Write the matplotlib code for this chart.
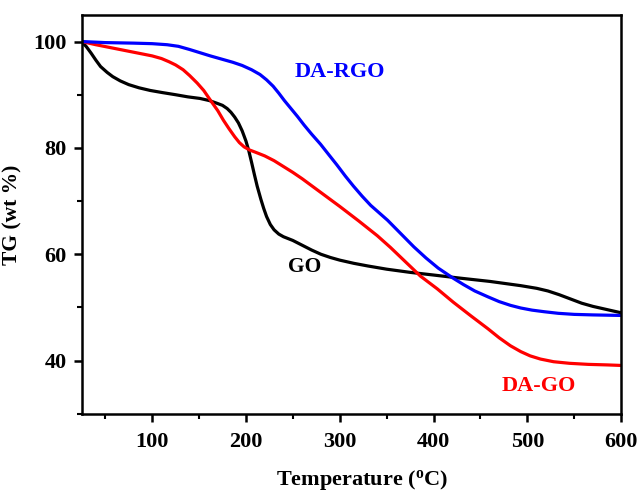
import matplotlib
matplotlib.use("Agg")
import matplotlib.pyplot as plt
from matplotlib.ticker import MultipleLocator

plt.rcParams['font.family'] = ['Liberation Serif', 'DejaVu Serif']
plt.rcParams['font.weight'] = 'bold'
plt.rcParams['mathtext.fontset'] = 'custom'
plt.rcParams['mathtext.rm'] = 'Liberation Serif:bold'
plt.rcParams['mathtext.bf'] = 'Liberation Serif:bold'
plt.rcParams['mathtext.it'] = 'Liberation Serif:bold'

go_t = [25, 30, 35, 40, 45, 52, 58, 66, 75, 86, 98, 111, 125, 138, 151, 161, 169, 175, 180, 184, 188, 192, 196, 200, 203, 206, 209, 212, 216, 219, 222, 226, 230, 235, 240, 250, 260, 270, 280, 290, 300, 315, 330, 350, 375, 400, 429, 460, 493, 510, 522, 534, 546, 558, 570, 585, 600]
go_w = [100, 99.0, 97.8, 96.5, 95.3, 94.2, 93.4, 92.6, 91.9, 91.3, 90.8, 90.4, 90.0, 89.6, 89.3, 88.9, 88.4, 88.0, 87.4, 86.7, 85.8, 84.7, 83.2, 81.3, 79.5, 77.3, 75.0, 72.8, 70.3, 68.6, 67.1, 65.6, 64.6, 63.8, 63.3, 62.6, 61.7, 60.8, 60.0, 59.4, 58.9, 58.3, 57.8, 57.2, 56.6, 56.1, 55.5, 54.9, 54.1, 53.6, 53.1, 52.4, 51.6, 50.8, 50.2, 49.6, 49.0]

dago_t = [25, 40, 60, 80, 100, 110, 118, 125, 133, 140, 148, 155, 162, 170, 176, 182, 188, 193, 198, 204, 210, 220, 230, 240, 250, 260, 280, 300, 320, 340, 354, 370, 386, 404, 421, 440, 458, 470, 482, 493, 503, 514, 528, 545, 565, 585, 600]
dago_w = [100, 99.4, 98.7, 98.0, 97.3, 96.8, 96.2, 95.6, 94.7, 93.6, 92.2, 90.8, 89.0, 87.0, 85.2, 83.6, 82.1, 81.0, 80.2, 79.6, 79.2, 78.5, 77.6, 76.5, 75.4, 74.2, 71.6, 69.0, 66.3, 63.5, 61.3, 58.6, 55.9, 53.5, 51.0, 48.4, 46.0, 44.3, 42.8, 41.7, 40.9, 40.3, 39.8, 39.5, 39.3, 39.2, 39.1]

dargo_t = [25, 50, 80, 100, 116, 128, 140, 151, 162, 174, 186, 196, 206, 215, 222, 229, 235, 241, 248, 255, 262, 270, 279.5, 288, 297, 306, 314.7, 324, 333, 342, 351, 365, 379, 392, 405, 421, 432, 444, 458, 470, 482, 493, 505, 518, 533, 550, 570, 600]
dargo_w = [100, 99.8, 99.7, 99.6, 99.4, 99.1, 98.5, 97.9, 97.3, 96.7, 96.1, 95.5, 94.7, 93.8, 92.8, 91.6, 90.3, 88.9, 87.4, 85.9, 84.3, 82.6, 80.7, 78.8, 76.8, 74.7, 72.8, 70.9, 69.2, 67.8, 66.4, 63.9, 61.4, 59.3, 57.4, 55.5, 54.3, 53.1, 52.0, 51.1, 50.4, 49.9, 49.5, 49.2, 48.9, 48.7, 48.6, 48.5]

labels = ["GO", "DA-GO", "DA-RGO"]
colors = ["black", "red", "blue"]

fig = plt.figure(figsize=(6.39, 4.98), dpi=100)
ax = fig.add_axes([0.128, 0.169, 0.844, 0.801])

ax.plot(go_t, go_w, color=colors[0], lw=2.3, solid_joinstyle='round')
ax.plot(dago_t, dago_w, color=colors[1], lw=2.3, solid_joinstyle='round')
ax.plot(dargo_t, dargo_w, color=colors[2], lw=2.3, solid_joinstyle='round')

ax.text(263, 57.6, labels[0], color=colors[0], fontsize=15.5, fontweight='bold', ha='center', va='center')
ax.text(512, 35.2, labels[1], color=colors[1], fontsize=16, fontweight='bold', ha='center', va='center')
ax.text(300, 94.2, labels[2], color=colors[2], fontsize=16, fontweight='bold', ha='center', va='center')

ax.set_xlim(25, 600)
ax.set_ylim(30, 105)
ax.xaxis.set_major_locator(MultipleLocator(100))
ax.xaxis.set_minor_locator(MultipleLocator(50))
ax.yaxis.set_major_locator(MultipleLocator(20))
ax.yaxis.set_minor_locator(MultipleLocator(10))
ax.tick_params(which='major', direction='out', length=6, width=1.8, labelsize=16)
ax.tick_params(axis='x', which='major', pad=7)
ax.tick_params(axis='y', which='major', pad=5)
ax.tick_params(which='minor', direction='out', length=3.5, width=1.5)
for s in ax.spines.values():
    s.set_linewidth(1.8)
for lab in ax.get_xticklabels() + ax.get_yticklabels():
    lab.set_fontweight('bold')

ax.set_xlabel(r'Temperature ($^{\mathrm{o}}$C)', fontsize=16, fontweight='bold', labelpad=16)
ax.xaxis.set_label_coords(0.52, -0.135)
ax.set_ylabel('TG (wt %)', fontsize=15.5, fontweight='bold', labelpad=8)

fig.savefig('out.png', dpi=100)
